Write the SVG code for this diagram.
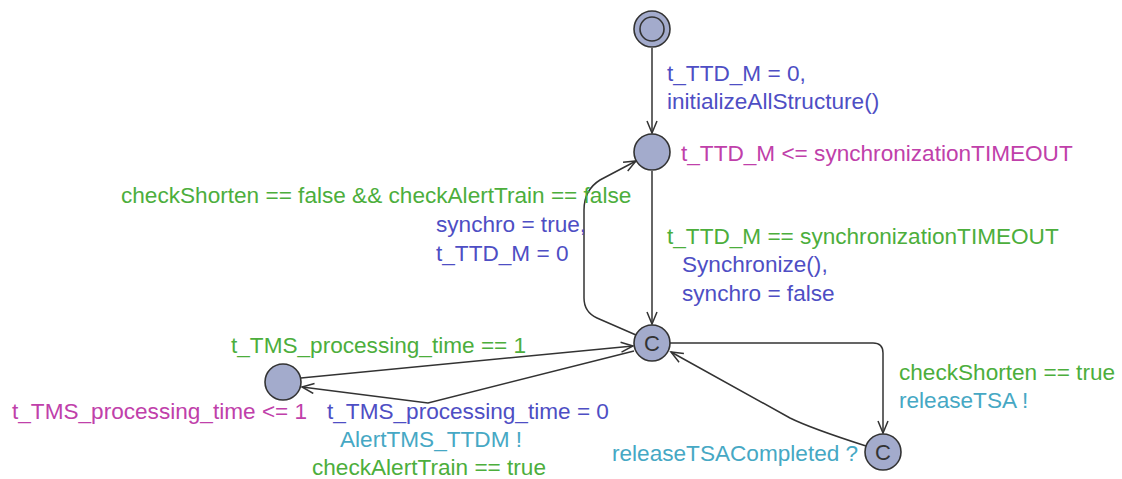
<svg xmlns="http://www.w3.org/2000/svg" width="1122" height="479" viewBox="0 0 1122 479">
<defs>
<marker id="arr" markerUnits="userSpaceOnUse" markerWidth="16" markerHeight="14" refX="13" refY="6" orient="auto">
<path d="M1,1 L13,6 L1,11" fill="none" stroke="#333" stroke-width="1.5"/>
</marker>
<style>
.node{fill:#a3abcc;stroke:#333;stroke-width:1.6}
.edge{fill:none;stroke:#333;stroke-width:1.5;marker-end:url(#arr)}
text{font-family:"Liberation Sans",Arial,sans-serif;font-size:22.6px}
.cl{font-size:22px;fill:#333;text-anchor:middle}
.g{fill:#4cae3c}
.b{fill:#4e4ec4}
.m{fill:#c040aa}
.c{fill:#46a8c4}
</style>
</defs>
<rect width="1122" height="479" fill="#fff"/>
<g id="connectors">
<path class="edge" d="M652,48 L652,133"/>
<path class="edge" d="M652,171 L652,324"/>
<path class="edge" d="M636,335 L597,318 Q584,312 584,298 L584,210 Q584,190 600,180 L636,161"/>
<path class="edge" d="M670,343 L873,343 Q883,343 883,353 L883,433"/>
<path class="edge" d="M866,446 Q810,428 790,418 L671,352"/>
<path class="edge" d="M301,378 L633,346"/>
<path class="edge" d="M634,351 L428,403 L302,387"/>
</g>
<g id="init">
<circle class="node" cx="652" cy="29" r="18"/>
<circle class="node" cx="652" cy="29" r="12"/>
</g>
<g id="wait">
<circle class="node" cx="652" cy="152" r="18"/>
<text class="m" x="681" y="161">t_TTD_M &lt;= synchronizationTIMEOUT</text>
</g>
<g id="choice">
<circle class="node" cx="652" cy="343" r="18"/>
<text class="cl" x="652" y="351">C</text>
</g>
<g id="tms">
<circle class="node" cx="283" cy="382" r="18"/>
<text class="m" x="12" y="419">t_TMS_processing_time &lt;= 1</text>
</g>
<g id="release">
<circle class="node" cx="883" cy="452" r="18"/>
<text class="cl" x="883" y="460">C</text>
</g>
<g id="labels">
<text class="b" x="667" y="81">t_TTD_M = 0,</text>
<text class="b" x="667" y="109">initializeAllStructure()</text>
<text class="g" x="121" y="203">checkShorten == false &amp;&amp; checkAlertTrain == false</text>
<text class="b" x="436" y="232">synchro = true,</text>
<text class="b" x="436" y="261">t_TTD_M = 0</text>
<text class="g" x="667" y="244">t_TTD_M == synchronizationTIMEOUT</text>
<text class="b" x="682" y="272">Synchronize(),</text>
<text class="b" x="682" y="301">synchro = false</text>
<text class="g" x="231" y="353">t_TMS_processing_time == 1</text>
<text class="g" x="899" y="380">checkShorten == true</text>
<text class="c" x="899" y="408">releaseTSA !</text>
<text class="b" x="327" y="419">t_TMS_processing_time = 0</text>
<text class="c" x="340" y="447">AlertTMS_TTDM !</text>
<text class="g" x="312" y="475">checkAlertTrain == true</text>
<text class="c" x="612" y="461">releaseTSACompleted ?</text>
</g>
</svg>
